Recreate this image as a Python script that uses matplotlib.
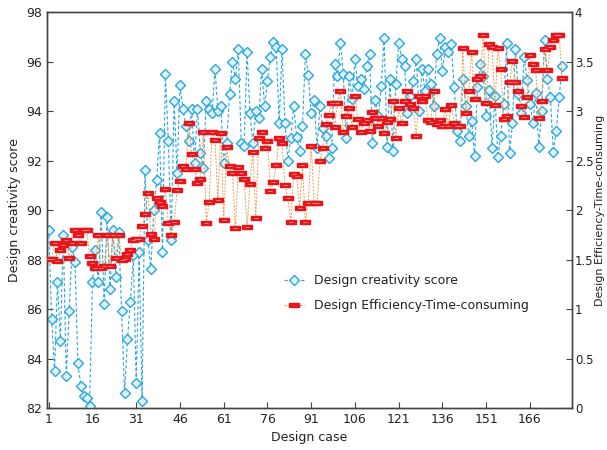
import matplotlib
matplotlib.use("Agg")
import matplotlib.pyplot as plt
import numpy as np
from matplotlib.path import Path

# Design creativity score (left axis)
creativity = [
    89.2, 85.6, 83.5, 87.1, 84.7, 89.0, 83.3, 85.9, 88.5, 87.9,
    83.8, 82.9, 82.5, 82.4, 82.1, 87.1, 88.4, 87.1, 89.9, 86.2,
    89.7, 86.8, 89.2, 87.3, 89.1, 85.9, 82.6, 84.8, 86.3, 88.2,
    83.0, 88.3, 82.3, 91.6, 88.8, 87.6, 90.0, 91.2, 93.1, 88.3,
    95.5, 92.8, 88.8, 94.4, 91.5, 95.05, 94.1, 93.4, 92.8, 94.1,
    91.9, 94.1, 92.3, 91.7, 94.4, 94.1, 93.9, 95.7, 94.0, 94.2,
    91.9, 92.7, 94.7, 96.0, 95.3, 96.5, 92.7, 92.6, 96.4, 93.9,
    92.7, 94.0, 93.7, 95.7, 94.2, 95.2, 96.2, 96.8, 96.6, 93.5,
    96.5, 93.5, 92.0, 92.9, 94.2, 92.95, 92.4, 93.4, 96.3, 95.45,
    93.9, 94.45, 92.5, 94.2, 93.3, 93.0, 92.1, 92.5, 95.9, 95.4,
    96.75, 95.5, 92.9, 95.4, 94.5, 96.1, 95.0, 95.3, 94.9, 95.8,
    96.3, 92.7, 94.45, 93.8, 95.0, 96.95, 92.55, 95.3, 92.4, 95.1,
    96.75, 96.1, 95.8, 93.9, 94.6, 95.2, 96.1, 94.0, 95.7, 94.8,
    95.7, 95.1, 94.2, 96.3, 96.95, 95.6, 96.6, 96.4, 96.7, 94.98,
    93.2, 92.8, 95.3, 94.2, 93.0, 93.6, 92.2, 94.97, 95.9, 95.4,
    93.8, 94.85, 92.5, 94.6, 92.15, 93.0, 94.3, 96.76, 92.3, 93.5,
    96.5, 94.7, 93.9, 96.2, 95.25, 94.3, 93.5, 94.74, 92.56, 94.0,
    96.87, 95.28, 94.55, 92.35, 93.2, 94.55, 95.8,
]

# Design Efficiency-Time-consuming (right axis)
efficiency = [
    1.51, 1.51, 1.67, 1.48, 1.60, 1.65, 1.70, 1.52, 1.67, 1.80,
    1.75, 1.67, 1.80, 1.80, 1.535, 1.46, 1.41, 1.75, 1.41, 1.43,
    1.75, 1.43, 1.75, 1.52, 1.75, 1.50, 1.51, 1.56, 1.60, 1.70,
    1.71, 1.71, 1.84, 1.96, 2.17, 1.76, 1.71, 2.12, 2.08, 2.04,
    2.21, 1.87, 1.75, 1.88, 2.20, 2.29, 2.44, 2.41, 2.88, 2.57,
    2.41, 2.27, 2.31, 2.79, 1.87, 2.08, 2.79, 2.71, 2.10, 2.78,
    1.90, 2.64, 2.44, 2.37, 1.815, 2.43, 2.37, 2.31, 1.825, 2.26,
    2.59, 1.92, 2.73, 2.79, 2.63, 2.70, 2.19, 2.28, 2.455, 2.73,
    2.68, 2.25, 2.12, 1.88, 2.36, 2.34, 2.02, 2.455, 1.88, 2.07,
    2.65, 2.07, 2.07, 2.50, 2.63, 2.87, 2.96, 3.08, 2.84, 3.08,
    3.20, 2.785, 2.95, 3.035, 2.84, 3.155, 2.92, 2.785, 2.876, 2.91,
    2.80, 2.987, 2.93, 2.85, 2.93, 2.775, 2.886, 2.92, 3.10, 2.73,
    3.03, 2.876, 3.10, 3.20, 3.07, 3.03, 2.75, 3.155, 3.10, 3.155,
    2.91, 2.886, 3.20, 2.866, 2.91, 2.85, 3.017, 2.85, 3.06, 2.88,
    2.85, 2.85, 3.633, 2.983, 3.205, 3.6, 3.12, 3.32, 3.353, 3.767,
    3.077, 3.677, 3.643, 3.06, 3.633, 3.42, 2.916, 2.95, 3.296, 3.508,
    3.296, 3.2, 3.05, 2.936, 3.138, 3.566, 3.475, 3.414, 2.926, 3.104,
    3.623, 3.414, 3.65, 3.717, 3.767, 3.767, 3.33,
]

x_ticks = [1, 16, 31, 46, 61, 76, 91, 106, 121, 136, 151, 166]

x1 = np.arange(1, len(creativity) + 1)
x2 = np.arange(1, len(efficiency) + 1)

blue = "#2aa7de"
red = "#e8161b"
spine_c = "#444444"

# small flat box marker for the efficiency series
rect = Path([(-1.6, -0.6), (1.6, -0.6), (1.6, 0.6), (-1.6, 0.6), (-1.6, -0.6)],
            [Path.MOVETO, Path.LINETO, Path.LINETO, Path.LINETO, Path.CLOSEPOLY])

fig = plt.figure(figsize=(6.07, 4.5), dpi=100)
ax = fig.add_axes([0.0774, 0.0933, 0.8649, 0.88])
ax2 = ax.twinx()

ax.plot(x1, creativity, color=blue, lw=0.8, ls=(0, (3, 2)), marker="D", ms=5,
        mfc="#dff3fc", mec=blue, mew=1.0, zorder=3)

ax2.plot(x2, efficiency, color="#f19a4a", lw=0.7, ls=(0, (2, 1.5)), zorder=2)
ax2.plot(x2, efficiency, ls="none", marker=rect, ms=7, mfc=red, mec=red, zorder=3)
ax2.plot(x2, efficiency, ls="none", marker="_", ms=3, mec="#ffd9d9", mew=0.4, zorder=4)

ax.set_xlim(0.4, 180.4)
ax.set_ylim(82, 98)
ax2.set_ylim(0, 4)
ax.set_xticks(x_ticks)
ax.set_yticks(np.arange(82, 99, 2))
ax2.set_yticks(np.arange(0, 4.01, 0.5))
ax2.set_yticklabels(["0", "0.5", "1", "1.5", "2", "2.5", "3", "3.5", "4"])

for a in (ax, ax2):
    a.tick_params(direction="in", length=4, width=0.8, colors=spine_c,
                  labelsize=9, labelcolor="#222222")
    for s in a.spines.values():
        s.set_color(spine_c)
        s.set_linewidth(1.0)
ax2.tick_params(axis="y", labelsize=8.5, pad=2)

ax.set_xlabel("Design case", fontsize=9, color="#222222", labelpad=4)
ax.set_ylabel("Design creativity score", fontsize=9, color="#222222", labelpad=4)
ax2.set_ylabel("Design Efficiency-Time-consuming", fontsize=8, color="#222222",
               labelpad=1)

h1 = plt.Line2D([], [], color=blue, lw=0.8, ls=(0, (3, 2)), marker="D", ms=5,
                mfc="#dff3fc", mec=blue)
h2 = plt.Line2D([], [], color="#f19a4a", lw=0.8, ls=(0, (2, 1.5)), marker=rect, ms=7,
                mfc=red, mec=red)
ax2.legend([h1, h2], ["Design creativity score", "Design Efficiency-Time-consuming"],
           loc="center left", bbox_to_anchor=(0.43, 0.29), frameon=False,
           fontsize=9, handlelength=1.6, labelspacing=1.0, labelcolor="#222222")

fig.savefig("out.png", dpi=100)
